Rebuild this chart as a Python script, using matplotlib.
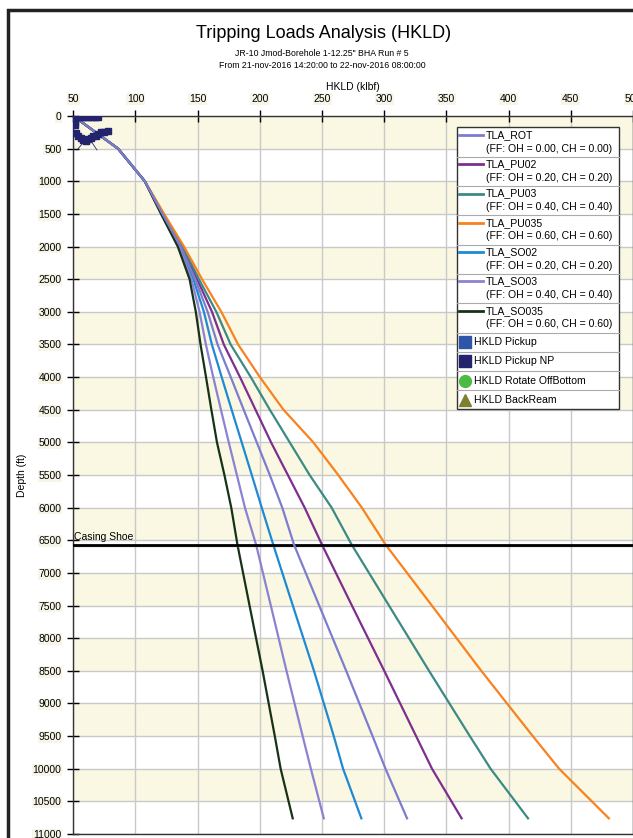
import matplotlib
matplotlib.use('Agg')
import matplotlib.pyplot as plt
from matplotlib.patches import Rectangle
from matplotlib.lines import Line2D

plt.rcParams['font.family'] = ['Liberation Sans', 'DejaVu Sans']

# depth stations (ft)
depth = [0, 500, 1000, 1500, 2000, 2500, 3000, 3500, 4000, 4500, 5000,
         5500, 6000, 6570, 7500, 8500, 9500, 10000, 10760]

# hookload (klbf) for each model curve
tla_rot = [50, 86, 107.5, 121.7, 136.3, 148, 158, 166, 176.6, 187, 197.5,
           208, 218, 227.5, 247.7, 269.4, 290.6, 301, 318.3]
tla_pu02 = [50, 86, 107.5, 122, 137, 149.5, 161.5, 171, 184, 196.5, 209,
            222.5, 236, 250, 274, 300, 325.6, 338.4, 362.2]
tla_pu03 = [50, 86, 107.5, 122.5, 138, 151, 165, 176.5, 192.7, 208, 224,
            240, 257.7, 273.9, 303.8, 336, 368.8, 385.5, 415.6]
tla_pu035 = [50, 86, 107.5, 123, 139, 153.5, 169, 182.5, 200, 219, 243,
             263, 282, 301.2, 338.3, 378, 419.4, 440.6, 480.6]
tla_so02 = [50, 86, 107.5, 121.3, 135.5, 146.5, 155, 161.4, 169.3, 177.3, 185.4,
            193.5, 201.5, 210.8, 226.5, 243.5, 259.4, 266.9, 281.6]
tla_so03 = [50, 86, 107.5, 121, 134.8, 145, 151.5, 156.6, 162.5, 168.7, 175,
            181.5, 188, 197, 208.8, 221.4, 234.4, 241, 251.4]
tla_so035 = [50, 86, 107.5, 120.5, 134, 143.5, 148.5, 152.3, 156.7, 161, 165.5,
             171.5, 177, 182, 191.7, 202.2, 212, 216.7, 226.4]

# measured pickup (not pipe-moving) points near surface
np_hkld = [50, 52, 54, 56, 58, 60, 62, 64, 66, 68, 70, 51, 51,
           52, 54, 56, 58, 60, 62, 64, 66, 68, 70, 72, 75, 78]
np_depth = [15, 15, 15, 15, 15, 15, 15, 15, 15, 15, 15, 90, 140,
            260, 300, 340, 370, 390, 360, 330, 300, 310, 280, 250, 240, 230]
np_trace_hkld = [53, 62, 69]
np_trace_depth = [520, 320, 520]

casing_shoe = 6570

curves = [
    ('TLA_ROT', '(FF: OH = 0.00, CH = 0.00)', tla_rot, '#7d7dcf'),
    ('TLA_PU02', '(FF: OH = 0.20, CH = 0.20)', tla_pu02, '#7e2f8e'),
    ('TLA_PU03', '(FF: OH = 0.40, CH = 0.40)', tla_pu03, '#3c8a84'),
    ('TLA_PU035', '(FF: OH = 0.60, CH = 0.60)', tla_pu035, '#f7821f'),
    ('TLA_SO02', '(FF: OH = 0.20, CH = 0.20)', tla_so02, '#1f8ad2'),
    ('TLA_SO03', '(FF: OH = 0.40, CH = 0.40)', tla_so03, '#8b82d2'),
    ('TLA_SO035', '(FF: OH = 0.60, CH = 0.60)', tla_so035, '#173317'),
]
markers = [
    ('HKLD Pickup', 's', '#2f55a8'),
    ('HKLD Pickup NP', 's', '#23236e'),
    ('HKLD Rotate OffBottom', 'o', '#4cbb44'),
    ('HKLD BackReam', '^', '#7f7f30'),
]

W, H = 633, 838
def fx(px):
    return px / W
def fy(py):
    return 1 - py / H

fig = plt.figure(figsize=(W / 100, H / 100), dpi=100)
ax = fig.add_axes([fx(73.3), fy(834), (W - 73.3) / W, (834 - 116) / H])

# alternating bands + grid
for d in range(0, 11000, 1000):
    ax.axhspan(d, d + 500, color='#faf8e2', zorder=0, lw=0)
ax.set_xlim(50, 500)
ax.set_ylim(11000, 0)
ax.set_xticks(range(50, 501, 50))
ax.set_yticks(range(0, 11001, 500))
ax.grid(True, color='#c9c9c9', lw=1, zorder=1)
ax.set_axisbelow(True)

for i, (name, ff, vals, col) in enumerate(curves):
    z = 6 if name == 'TLA_ROT' else 3
    ax.plot(vals, depth, color=col, lw=1.6, zorder=z, solid_joinstyle='round')

ax.plot(np_trace_hkld, np_trace_depth, color='#23236e', lw=0.6, zorder=7)
ax.plot(np_hkld, np_depth, 's', color='#23236e', ms=4.2, zorder=7)

ax.axhline(casing_shoe + 25, color='#999999', lw=1, zorder=4)
ax.axhline(casing_shoe, color='black', lw=2, zorder=5)
ax.text(50.5, casing_shoe - 40, 'Casing Shoe', fontsize=7.5, ha='left', va='bottom', zorder=6)

ax.xaxis.tick_top()
ax.xaxis.set_label_position('top')
ax.tick_params(axis='both', direction='inout', length=9, width=1, labelsize=7.5, pad=4)
ax.set_xlabel('HKLD (klbf)', fontsize=7.5, labelpad=3)
ax.set_ylabel('Depth (ft)', fontsize=7.5)
ax.yaxis.set_label_coords((27 - 73.3) / (W - 73.3), 0.5)
for lbl in ax.get_xticklabels() + ax.get_yticklabels():
    lbl.set_bbox(dict(facecolor='#f7f5e8', edgecolor='none', pad=0.6))
for s in ax.spines.values():
    s.set_color('#333333')
    s.set_linewidth(1)

# title block
fig.text(fx(324), fy(34), 'Tripping Loads Analysis (HKLD)', fontsize=13, ha='center', va='center')
fig.text(fx(322), fy(54), 'JR-10 Jmod-Borehole 1-12.25" BHA Run # 5', fontsize=6.3, ha='center', va='center')
fig.text(fx(322), fy(66), 'From 21-nov-2016 14:20:00 to 22-nov-2016 08:00:00', fontsize=6.3, ha='center', va='center')

# outer frame
fig.patches.append(Rectangle((fx(8), -0.1), 1.2, fy(10) + 0.1, transform=fig.transFigure,
                             fill=False, ec='#222222', lw=2.5))

# legend drawn as a table-like box
lx0, lx1, ly0 = 457, 619, 127.5
line_h, mark_h = 29.3, 19.2
ly1 = ly0 + 7 * line_h + 4 * mark_h
fig.patches.append(Rectangle((fx(lx0), fy(ly1)), (lx1 - lx0) / W, (ly1 - ly0) / H,
                             transform=fig.transFigure, fc='white', ec='#333333', lw=1, zorder=10))
y = ly0
for i, (name, ff, vals, col) in enumerate(curves):
    fig.lines.append(Line2D([fx(459), fx(483)], [fy(y + 7.5)] * 2, color=col, lw=2,
                            transform=fig.transFigure, zorder=11))
    fig.text(fx(486), fy(y + 7.5), name, fontsize=7.6, va='center', ha='left', zorder=11)
    fig.text(fx(486), fy(y + 21), ff, fontsize=7.6, va='center', ha='left', zorder=11)
    y += line_h
    fig.lines.append(Line2D([fx(lx0), fx(lx1)], [fy(y)] * 2, color='#aaaaaa', lw=0.8,
                            transform=fig.transFigure, zorder=11))
for i, (name, mk, col) in enumerate(markers):
    cy = y + mark_h / 2
    fig.lines.append(Line2D([fx(465)], [fy(cy)], marker=mk, color=col, ms=8.5, ls='none',
                            transform=fig.transFigure, zorder=11))
    fig.text(fx(474), fy(cy), name, fontsize=7.6, va='center', ha='left', zorder=11)
    y += mark_h
    if i < len(markers) - 1:
        fig.lines.append(Line2D([fx(lx0), fx(lx1)], [fy(y)] * 2, color='#aaaaaa', lw=0.8,
                                transform=fig.transFigure, zorder=11))

fig.savefig('out.png', dpi=100)
